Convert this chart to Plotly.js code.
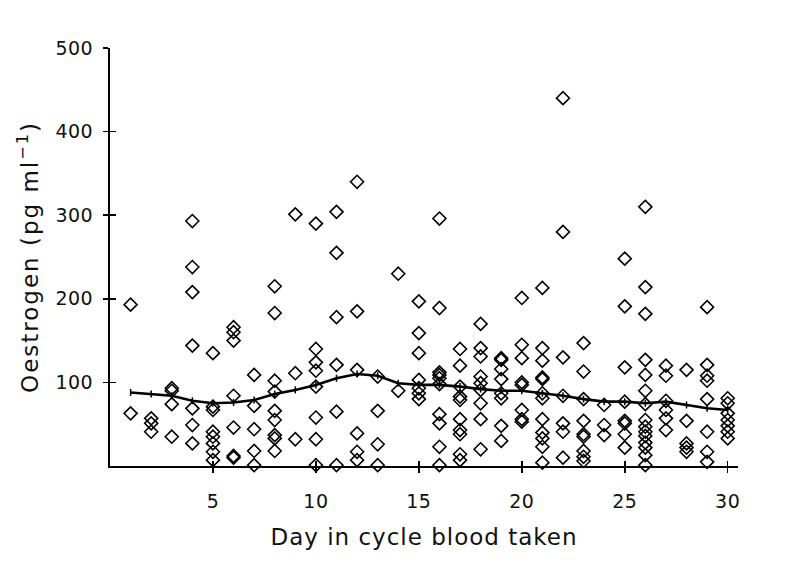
<!DOCTYPE html>
<html>
<head>
<meta charset="utf-8">
<script src="https://cdn.plot.ly/plotly-3.0.1.min.js"></script>
<style>
html,body{margin:0;padding:0;background:#fff;}
#chart{width:788px;height:574px;}
#chart .xtitle{letter-spacing:1px;}
#chart .ytitle{letter-spacing:2px;}
#chart .xtick text, #chart .ytick text{letter-spacing:0.5px;}
</style>
</head>
<body>
<div id="chart"></div>
<script>
// Observed oestrogen values (pg/ml) per day in cycle (day 1..30)
const cycleDays = [1,2,3,4,5,6,7,8,9,10,11,12,13,14,15,16,17,18,19,20,21,22,23,24,25,26,27,28,29,30];
const valuesByDay = [
  [193, 63],
  [57, 51, 41],
  [93, 90, 74, 35],
  [293, 238, 208, 144, 69, 49, 27],
  [135, 71, 67, 41, 35, 27, 17, 7],
  [166, 160, 150, 84, 46, 12, 10],
  [109, 72, 44, 18, 1],
  [215, 183, 102, 89, 66, 55, 37, 33, 18],
  [301, 111, 32],
  [290, 140, 124, 114, 95, 58, 32, 1],
  [304, 255, 178, 121, 65, 1],
  [340, 185, 115, 39, 17, 7],
  [107, 66, 26, 1],
  [230, 90],
  [197, 159, 135, 103, 93, 87, 80],
  [296, 189, 112, 109, 105, 98, 62, 51, 23, 1],
  [140, 120, 95, 83, 79, 56, 43, 38, 14, 7],
  [170, 141, 131, 107, 99, 91, 75, 56, 20],
  [129, 127, 116, 104, 87, 81, 48, 30],
  [201, 145, 129, 100, 97, 67, 56, 53],
  [213, 141, 126, 106, 104, 87, 81, 56, 40, 33, 23, 4],
  [440, 280, 130, 84, 51, 41, 10],
  [147, 113, 80, 54, 38, 35, 18, 11, 6],
  [73, 49, 37],
  [248, 191, 118, 77, 54, 51, 38, 22],
  [310, 214, 182, 127, 109, 90, 74, 55, 47, 41, 36, 28, 22, 13, 1],
  [120, 108, 78, 67, 57, 43],
  [115, 54, 27, 22, 17],
  [190, 121, 108, 102, 80, 41, 17, 5],
  [81, 75, 63, 55, 48, 41, 33]
];
// Smoothed mean curve
const trendMean = [88, 86, 84, 78, 75, 76, 79, 86, 91, 97, 105, 110, 108, 99, 97, 97, 95, 92, 90, 90, 87, 84, 80, 77, 77, 75, 77, 73, 69, 67];

const xTickVals = [5, 10, 15, 20, 25, 30];
const yTickVals = [100, 200, 300, 400, 500];

const ptsX = [], ptsY = [];
cycleDays.forEach((d, i) => valuesByDay[i].forEach(v => { ptsX.push(d); ptsY.push(v); }));

const traces = [
  {
    x: ptsX, y: ptsY, type: 'scatter', mode: 'markers', cliponaxis: false,
    marker: { symbol: 'diamond-open', size: 10, color: '#000', line: { width: 1.6, color: '#000' } },
    hoverinfo: 'x+y'
  },
  {
    x: cycleDays, y: trendMean, type: 'scatter', mode: 'lines+markers', cliponaxis: false,
    line: { color: '#000', width: 2.6 },
    marker: { symbol: 'line-ns-open', size: 5, color: '#000', line: { width: 1.5, color: '#000' } }
  }
];

const fontFam = '"DejaVu Sans", "Liberation Sans", Arial, sans-serif';
const layout = {
  width: 788, height: 574,
  margin: { l: 110, r: 50, t: 48, b: 108 },
  paper_bgcolor: '#fff', plot_bgcolor: '#fff',
  showlegend: false,
  font: { family: fontFam, color: '#111', size: 19 },
  xaxis: {
    range: [0, 30.5], showgrid: false, zeroline: false,
    showline: true, linecolor: '#000', linewidth: 2,
    tickmode: 'array', tickvals: xTickVals, ticktext: xTickVals.map(String),
    ticks: 'outside', ticklen: 5, tickwidth: 1.5, tickcolor: '#000',
    ticklabelstandoff: 12,
    tickfont: { size: 19, family: fontFam, color: '#111' },
    title: { text: 'Day in cycle blood taken', font: { size: 23, family: fontFam, color: '#111' }, standoff: 18 }
  },
  yaxis: {
    range: [0, 500], showgrid: false, zeroline: false,
    showline: true, linecolor: '#000', linewidth: 2,
    tickmode: 'array', tickvals: yTickVals, ticktext: yTickVals.map(String),
    ticks: 'outside', ticklen: 5, tickwidth: 1.5, tickcolor: '#000',
    ticklabelstandoff: 6,
    tickfont: { size: 19, family: fontFam, color: '#111' },
    title: { text: 'Oestrogen (pg ml<sup>−1</sup>)', font: { size: 23, family: fontFam, color: '#111' }, standoff: 12 }
  },
  xaxis2: {
    overlaying: 'x', range: [0, 30.5], showgrid: false, zeroline: false, showline: false,
    tickmode: 'array', tickvals: xTickVals, showticklabels: false,
    ticks: 'inside', ticklen: 5, tickwidth: 1.5, tickcolor: '#000'
  },
  yaxis2: {
    overlaying: 'y', range: [0, 500], showgrid: false, zeroline: false, showline: false,
    tickmode: 'array', tickvals: yTickVals.concat([0]), showticklabels: false,
    ticks: 'inside', ticklen: 6, tickwidth: 1.5, tickcolor: '#000'
  }
};
// empty trace to activate the overlay axes (inside ticks -> cross-shaped ticks)
traces.push({ x: [null], y: [null], xaxis: 'x2', yaxis: 'y2', type: 'scatter', mode: 'markers', hoverinfo: 'skip' });

Plotly.newPlot('chart', traces, layout, { displayModeBar: false, staticPlot: true });
</script>
</body>
</html>
